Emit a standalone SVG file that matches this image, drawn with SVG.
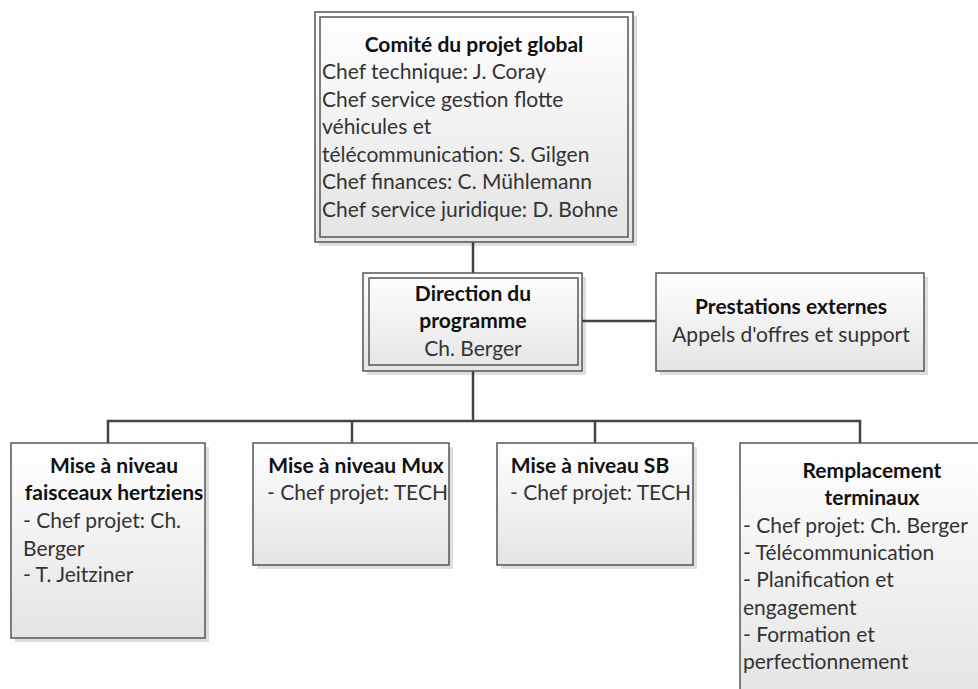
<svg xmlns="http://www.w3.org/2000/svg" width="978" height="689" viewBox="0 0 978 689">
<style>
.box{fill:url(#g);stroke:#555;stroke-width:1.5}
.inner{fill:none;stroke:#555;stroke-width:1.5}
.sh{fill:#000;opacity:0.13}
.con{stroke:#444;stroke-width:2.5;fill:none}
text{font-family:Lato,"Open Sans","Liberation Sans",sans-serif;font-size:21px;fill:#333}
.t{font-weight:bold;fill:#111}
.c{text-anchor:middle}
</style>
<defs>
<linearGradient id="g" x1="0" y1="0" x2="0" y2="1">
<stop offset="0" stop-color="#ffffff"/>
<stop offset="1" stop-color="#e4e4e4"/>
</linearGradient>
</defs>
<rect width="978" height="689" fill="#fff"/>
<g id="connectors">
<path class="con" d="M473 242V273"/>
<path class="con" d="M582 321H656"/>
<path class="con" d="M473 371V421"/>
<path class="con" d="M108 443V421H860V443"/>
<path class="con" d="M352 421V443"/>
<path class="con" d="M595 421V443"/>
</g>
<g id="comite">
<rect class="sh" x="319" y="16" width="318" height="230"/>
<rect class="box" x="315" y="12" width="318" height="230"/>
<rect class="inner" x="320" y="17" width="308" height="220"/>
<text class="t c" x="474" y="52">Comité du projet global</text>
<text x="322" y="79">Chef technique: J. Coray</text>
<text x="322" y="107">Chef service gestion flotte</text>
<text x="322" y="134">véhicules et</text>
<text x="322" y="162">télécommunication: S. Gilgen</text>
<text x="322" y="189">Chef finances: C. Mühlemann</text>
<text x="322" y="217">Chef service juridique: D. Bohne</text>
</g>
<g id="direction">
<rect class="sh" x="367" y="277" width="219" height="98"/>
<rect class="box" x="363" y="273" width="219" height="98"/>
<rect class="inner" x="369" y="278" width="209" height="87"/>
<text class="t c" x="473" y="301">Direction du</text>
<text class="t c" x="473" y="328">programme</text>
<text class="c" x="473" y="356">Ch. Berger</text>
</g>
<g id="prestations">
<rect class="sh" x="660" y="277" width="268" height="98"/>
<rect class="box" x="656" y="273" width="268" height="98"/>
<text class="t c" x="791" y="314">Prestations externes</text>
<text class="c" x="791" y="342">Appels d'offres et support</text>
</g>
<g id="faisceaux">
<rect class="sh" x="15" y="447" width="194" height="195"/>
<rect class="box" x="11" y="443" width="194" height="195"/>
<text class="t c" x="114" y="473">Mise à niveau</text>
<text class="t c" x="114" y="500">faisceaux hertziens</text>
<text x="23" y="528">- Chef projet: Ch.</text>
<text x="23" y="556">Berger</text>
<text x="23" y="582">- T. Jeitziner</text>
</g>
<g id="mux">
<rect class="sh" x="257" y="447" width="196" height="122"/>
<rect class="box" x="253" y="443" width="196" height="122"/>
<text class="t c" x="356" y="473">Mise à niveau Mux</text>
<text x="267" y="500">- Chef projet: TECH</text>
</g>
<g id="sb">
<rect class="sh" x="501" y="447" width="196" height="122"/>
<rect class="box" x="497" y="443" width="196" height="122"/>
<text class="t c" x="590" y="473">Mise à niveau SB</text>
<text x="510" y="500">- Chef projet: TECH</text>
</g>
<g id="remplacement">
<rect class="sh" x="744" y="447" width="240" height="260"/>
<rect class="box" x="740" y="443" width="240" height="260"/>
<text class="t c" x="872" y="478">Remplacement</text>
<text class="t c" x="872" y="505">terminaux</text>
<text x="743" y="533">- Chef projet: Ch. Berger</text>
<text x="743" y="560">- Télécommunication</text>
<text x="743" y="587">- Planification et</text>
<text x="743" y="615">engagement</text>
<text x="743" y="642">- Formation et</text>
<text x="743" y="669">perfectionnement</text>
</g>
</svg>
